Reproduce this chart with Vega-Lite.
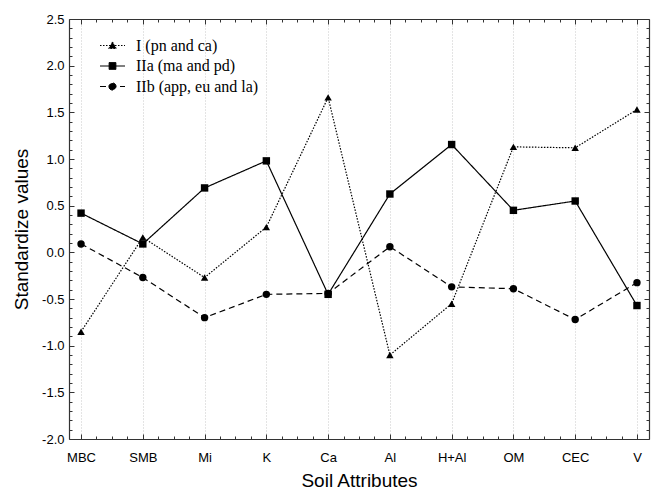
{
  "$schema": "https://vega.github.io/schema/vega-lite/v6.json",
  "width": 580,
  "height": 420,
  "autosize": "none",
  "padding": {"left": 69, "top": 19, "right": 2, "bottom": 51},
  "background": "white",
  "config": {
    "view": {"stroke": null},
    "axis": {
      "domainColor": "#333333",
      "domainWidth": 1.2,
      "tickColor": "#333333",
      "tickWidth": 1,
      "labelFont": "Liberation Sans",
      "labelFontSize": 13,
      "labelColor": "black",
      "titleFont": "Liberation Sans",
      "titleFontSize": 19,
      "titleFontWeight": "normal",
      "titleColor": "black"
    }
  },
  "data": {
    "values": [
      {"attr": "MBC", "idx": 0, "group": "I (pn and ca)", "value": -0.85},
      {"attr": "SMB", "idx": 1, "group": "I (pn and ca)", "value": 0.16},
      {"attr": "Mi", "idx": 2, "group": "I (pn and ca)", "value": -0.27},
      {"attr": "K", "idx": 3, "group": "I (pn and ca)", "value": 0.27},
      {"attr": "Ca", "idx": 4, "group": "I (pn and ca)", "value": 1.66},
      {"attr": "Al", "idx": 5, "group": "I (pn and ca)", "value": -1.10},
      {"attr": "H+Al", "idx": 6, "group": "I (pn and ca)", "value": -0.55},
      {"attr": "OM", "idx": 7, "group": "I (pn and ca)", "value": 1.13},
      {"attr": "CEC", "idx": 8, "group": "I (pn and ca)", "value": 1.12},
      {"attr": "V", "idx": 9, "group": "I (pn and ca)", "value": 1.53},
      {"attr": "MBC", "idx": 0, "group": "IIa (ma and pd)", "value": 0.42},
      {"attr": "SMB", "idx": 1, "group": "IIa (ma and pd)", "value": 0.09},
      {"attr": "Mi", "idx": 2, "group": "IIa (ma and pd)", "value": 0.69},
      {"attr": "K", "idx": 3, "group": "IIa (ma and pd)", "value": 0.98},
      {"attr": "Ca", "idx": 4, "group": "IIa (ma and pd)", "value": -0.45},
      {"attr": "Al", "idx": 5, "group": "IIa (ma and pd)", "value": 0.625},
      {"attr": "H+Al", "idx": 6, "group": "IIa (ma and pd)", "value": 1.155},
      {"attr": "OM", "idx": 7, "group": "IIa (ma and pd)", "value": 0.45},
      {"attr": "CEC", "idx": 8, "group": "IIa (ma and pd)", "value": 0.55},
      {"attr": "V", "idx": 9, "group": "IIa (ma and pd)", "value": -0.57},
      {"attr": "MBC", "idx": 0, "group": "IIb (app, eu and la)", "value": 0.09},
      {"attr": "SMB", "idx": 1, "group": "IIb (app, eu and la)", "value": -0.27},
      {"attr": "Mi", "idx": 2, "group": "IIb (app, eu and la)", "value": -0.70},
      {"attr": "K", "idx": 3, "group": "IIb (app, eu and la)", "value": -0.45},
      {"attr": "Ca", "idx": 4, "group": "IIb (app, eu and la)", "value": -0.44},
      {"attr": "Al", "idx": 5, "group": "IIb (app, eu and la)", "value": 0.06},
      {"attr": "H+Al", "idx": 6, "group": "IIb (app, eu and la)", "value": -0.37},
      {"attr": "OM", "idx": 7, "group": "IIb (app, eu and la)", "value": -0.39},
      {"attr": "CEC", "idx": 8, "group": "IIb (app, eu and la)", "value": -0.72},
      {"attr": "V", "idx": 9, "group": "IIb (app, eu and la)", "value": -0.325}
    ]
  },
  "layer": [
    {
      "mark": {"type": "line", "color": "black", "strokeWidth": 1.2},
      "encoding": {
        "x": {
          "field": "idx",
          "type": "quantitative",
          "scale": {"domain": [-0.195, 9.195], "nice": false, "zero": false},
          "axis": {
            "orient": "bottom",
            "title": "Soil Attributes",
            "titlePadding": 5,
            "values": [0, 0.25, 0.5, 0.75, 1, 1.25, 1.5, 1.75, 2, 2.25, 2.5, 2.75, 3, 3.25, 3.5, 3.75, 4, 4.25, 4.5, 4.75, 5, 5.25, 5.5, 5.75, 6, 6.25, 6.5, 6.75, 7, 7.25, 7.5, 7.75, 8, 8.25, 8.5, 8.75, 9],
            "labelExpr": "datum.value % 1 === 0 ? ['MBC','SMB','Mi','K','Ca','Al','H+Al','OM','CEC','V'][datum.value] : ''",
            "tickSize": {"condition": {"test": "datum.value % 1 === 0", "value": -5}, "value": -3},
            "labelPadding": 17,
            "labelFlush": false,
            "labelOverlap": false,
            "grid": true,
            "gridColor": "#c8c8c8",
            "gridDash": [1, 2],
            "gridWidth": 1,
            "gridOpacity": {"condition": {"test": "datum.value % 1 === 0", "value": 1}, "value": 0}
          }
        },
        "y": {
          "field": "value",
          "type": "quantitative",
          "scale": {"domain": [-2, 2.5], "nice": false, "zero": false},
          "axis": {
            "orient": "left",
            "title": "Standardize values",
            "titlePadding": 10,
            "values": [-2, -1.9, -1.8, -1.7, -1.6, -1.5, -1.4, -1.3, -1.2, -1.1, -1, -0.9, -0.8, -0.7, -0.6, -0.5, -0.4, -0.3, -0.2, -0.1, 0, 0.1, 0.2, 0.3, 0.4, 0.5, 0.6, 0.7, 0.8, 0.9, 1, 1.1, 1.2, 1.3, 1.4, 1.5, 1.6, 1.7, 1.8, 1.9, 2, 2.1, 2.2, 2.3, 2.4, 2.5],
            "labelExpr": "abs(datum.value * 2 - round(datum.value * 2)) < 0.001 ? replace(format(datum.value, '.1f'), '\u2212', '-') : ''",
            "tickSize": {"condition": {"test": "abs(datum.value * 2 - round(datum.value * 2)) < 0.001", "value": -5}, "value": -3},
            "labelPadding": 10,
            "labelFlush": false,
            "labelOverlap": false,
            "grid": false
          }
        },
        "strokeDash": {
          "field": "group",
          "type": "nominal",
          "scale": {
            "domain": ["I (pn and ca)", "IIa (ma and pd)", "IIb (app, eu and la)"],
            "range": [[1.5, 1.5], [1, 0], [6, 4]]
          },
          "legend": {
            "title": null,
            "orient": "none",
            "legendX": 33,
            "legendY": 16,
            "padding": 0,
            "labelFont": "Liberation Serif",
            "labelFontSize": 16,
            "labelColor": "black",
            "labelLimit": 300,
            "labelOffset": 13,
            "rowPadding": 1.5,
            "symbolSize": 400,
            "symbolStrokeWidth": 1,
            "symbolStrokeColor": "black",
            "symbolFillColor": "black",
            "encode": {
              "symbols": {
                "update": {
                  "shape": {"signal": "datum.value === 'I (pn and ca)' ? 'M-1.25,0H1.25M0,-0.36L0.38,0.3H-0.38Z' : datum.value === 'IIa (ma and pd)' ? 'M-1.25,0H1.25M-0.34,-0.34H0.34V0.34H-0.34Z' : 'M-1.25,0H1.25M-0.36,0A0.36,0.36,0,1,0,0.36,0A0.36,0.36,0,1,0,-0.36,0Z'"},
                  "fill": {"value": "black"},
                  "stroke": {"value": "black"}
                }
              }
            }
          }
        }
      }
    },
    {
      "transform": [{"filter": "datum.group === 'I (pn and ca)'"}],
      "mark": {"type": "point", "shape": "triangle-up", "filled": true, "color": "black", "opacity": 1, "size": 55},
      "encoding": {
        "x": {
          "field": "idx",
          "type": "quantitative",
          "axis": {
            "orient": "top",
            "title": null,
            "labels": false,
            "grid": false,
            "values": [0, 0.25, 0.5, 0.75, 1, 1.25, 1.5, 1.75, 2, 2.25, 2.5, 2.75, 3, 3.25, 3.5, 3.75, 4, 4.25, 4.5, 4.75, 5, 5.25, 5.5, 5.75, 6, 6.25, 6.5, 6.75, 7, 7.25, 7.5, 7.75, 8, 8.25, 8.5, 8.75, 9],
            "tickSize": {"condition": {"test": "datum.value % 1 === 0", "value": -5}, "value": -3}
          }
        },
        "y": {
          "field": "value",
          "type": "quantitative",
          "axis": {
            "orient": "right",
            "title": null,
            "labels": false,
            "grid": false,
            "values": [-2, -1.9, -1.8, -1.7, -1.6, -1.5, -1.4, -1.3, -1.2, -1.1, -1, -0.9, -0.8, -0.7, -0.6, -0.5, -0.4, -0.3, -0.2, -0.1, 0, 0.1, 0.2, 0.3, 0.4, 0.5, 0.6, 0.7, 0.8, 0.9, 1, 1.1, 1.2, 1.3, 1.4, 1.5, 1.6, 1.7, 1.8, 1.9, 2, 2.1, 2.2, 2.3, 2.4, 2.5],
            "tickSize": {"condition": {"test": "abs(datum.value * 2 - round(datum.value * 2)) < 0.001", "value": -5}, "value": -3}
          }
        }
      }
    },
    {
      "transform": [{"filter": "datum.group === 'IIa (ma and pd)'"}],
      "mark": {"type": "point", "shape": "square", "filled": true, "color": "black", "opacity": 1, "size": 55},
      "encoding": {
        "x": {"field": "idx", "type": "quantitative", "axis": null},
        "y": {"field": "value", "type": "quantitative", "axis": null}
      }
    },
    {
      "transform": [{"filter": "datum.group === 'IIb (app, eu and la)'"}],
      "mark": {"type": "point", "shape": "circle", "filled": true, "color": "black", "opacity": 1, "size": 55},
      "encoding": {
        "x": {"field": "idx", "type": "quantitative", "axis": null},
        "y": {"field": "value", "type": "quantitative", "axis": null}
      }
    }
  ],
  "resolve": {"axis": {"x": "independent", "y": "independent"}}
}
